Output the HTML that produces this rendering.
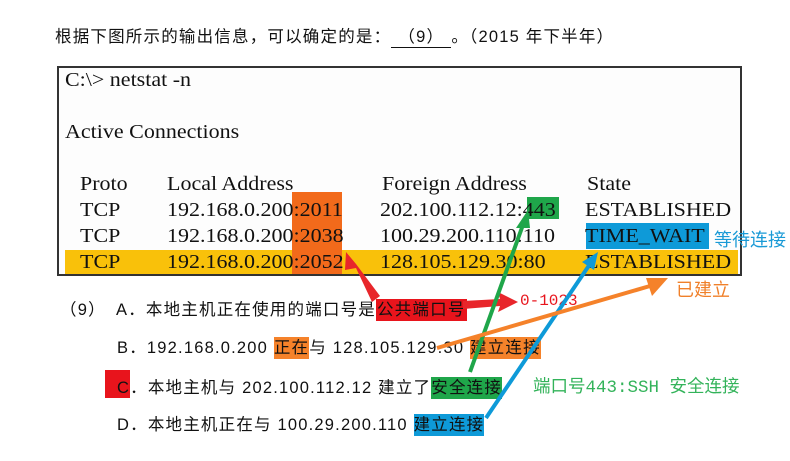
<!DOCTYPE html>
<html><head><meta charset="utf-8">
<style>
body{margin:0;width:790px;height:461px;background:#fff;position:relative;overflow:hidden;font-family:"Liberation Sans","Noto Sans CJK SC",sans-serif;}
.a{position:absolute;white-space:nowrap;}
.s{font-family:"Liberation Serif","Noto Serif CJK SC",serif;font-size:20px;color:#111;transform:scaleX(1.1);transform-origin:left top;}
.c{font-size:16.5px;letter-spacing:1.2px;color:#111;}
.m{font-family:"Liberation Mono","Noto Sans CJK SC",monospace;}
.bx{position:absolute;}
</style></head><body>
<div class="a c" style="left:55px;top:23px;">根据下图所示的输出信息，可以确定的是：<span style="display:inline-block;border-bottom:1px solid #111;width:60px;text-align:center">（9）</span>。（2015 年下半年）</div>

<div class="bx" style="left:57px;top:66px;width:681px;height:206px;border:2px solid #333;background:#fdfdfd;"></div>
<div class="bx" style="left:65px;top:250px;width:673px;height:24px;background:#f9c10a;"></div>
<div class="bx" style="left:292px;top:192px;width:50px;height:82px;background:#f26a1b;"></div>
<div class="bx" style="left:527px;top:197px;width:32px;height:22px;background:#1fa64a;"></div>
<div class="bx" style="left:586px;top:223px;width:123px;height:26px;background:#0e9ad8;"></div>

<div class="a s" style="left:65px;top:69px;">C:\&gt; netstat -n</div>
<div class="a s" style="left:65px;top:121px;">Active Connections</div>
<div class="a s" style="left:80px;top:173px;">Proto</div>
<div class="a s" style="left:167px;top:173px;">Local Address</div>
<div class="a s" style="left:382px;top:173px;">Foreign Address</div>
<div class="a s" style="left:587px;top:173px;">State</div>

<div class="a s" style="left:80px;top:199px;">TCP</div>
<div class="a s" style="left:167px;top:199px;">192.168.0.200:2011</div>
<div class="a s" style="left:380px;top:199px;">202.100.112.12:443</div>
<div class="a s" style="left:585px;top:199px;">ESTABLISHED</div>
<div class="a s" style="left:80px;top:225px;">TCP</div>
<div class="a s" style="left:167px;top:225px;">192.168.0.200:2038</div>
<div class="a s" style="left:380px;top:225px;">100.29.200.110:110</div>
<div class="a s" style="left:585px;top:225px;">TIME_WAIT</div>
<div class="a s" style="left:80px;top:251px;">TCP</div>
<div class="a s" style="left:167px;top:251px;">192.168.0.200:2052</div>
<div class="a s" style="left:380px;top:251px;">128.105.129.30:80</div>
<div class="a s" style="left:585px;top:251px;">ESTABLISHED</div>

<div class="a" style="left:714px;top:226px;font-size:18px;color:#1a9ad6;">等待连接</div>
<div class="a" style="left:676px;top:276px;font-size:18px;color:#f0802a;">已建立</div>

<div class="a c" style="left:60px;top:296px;">（9）</div>
<div class="a c" style="left:116px;top:296px;">A．本地主机正在使用的端口号是<span style="background:#e8141c;padding:2px 1px;">公共端口号</span></div>
<div class="a m" style="left:520px;top:292px;color:#e8141c;font-size:16px;">0-1023</div>

<div class="a c" style="left:117px;top:334px;">B．192.168.0.200 <span style="background:#f5822a;padding:2px 0;">正在</span>与 128.105.129.30 <span style="background:#f5822a;padding:2px 0;">建立连接</span></div>
<div class="bx" style="left:105px;top:370px;width:25px;height:28px;background:#e8141c;"></div>
<div class="a c" style="left:117px;top:374px;">C．本地主机与 202.100.112.12 建立了<span style="background:#1fa64a;padding:2px 0;">安全连接</span></div>
<div class="a m" style="left:533px;top:373px;color:#33b35a;font-size:17.5px;">端口号443:SSH 安全连接</div>
<div class="a c" style="left:117px;top:411px;">D．本地主机正在与 100.29.200.110 <span style="background:#0e9ad8;padding:2px 0;">建立连接</span></div>

<svg class="bx" style="left:0;top:0" width="790" height="461">
<g fill="#e8262b"><polygon points="380,296 356,264 346,252 345,270 356,268 372,302"/></g>
<g fill="#e8262b"><polygon points="463,301 500,299 498,292 518,302 498,312 500,306 463,309"/></g>
<line x1="470" y1="372" x2="524" y2="222" stroke="#1fa64a" stroke-width="4"/>
<polygon fill="#1fa64a" points="528,210 516,228 530,228"/>
<line x1="486" y1="418" x2="590" y2="264" stroke="#0e9ad8" stroke-width="4"/>
<polygon fill="#0e9ad8" points="598,252 582,262 594,270"/>
<line x1="437" y1="348" x2="650" y2="286" stroke="#f5822a" stroke-width="4"/>
<polygon fill="#f5822a" points="668,278 646,278 652,296"/>
</svg>
</body></html>
